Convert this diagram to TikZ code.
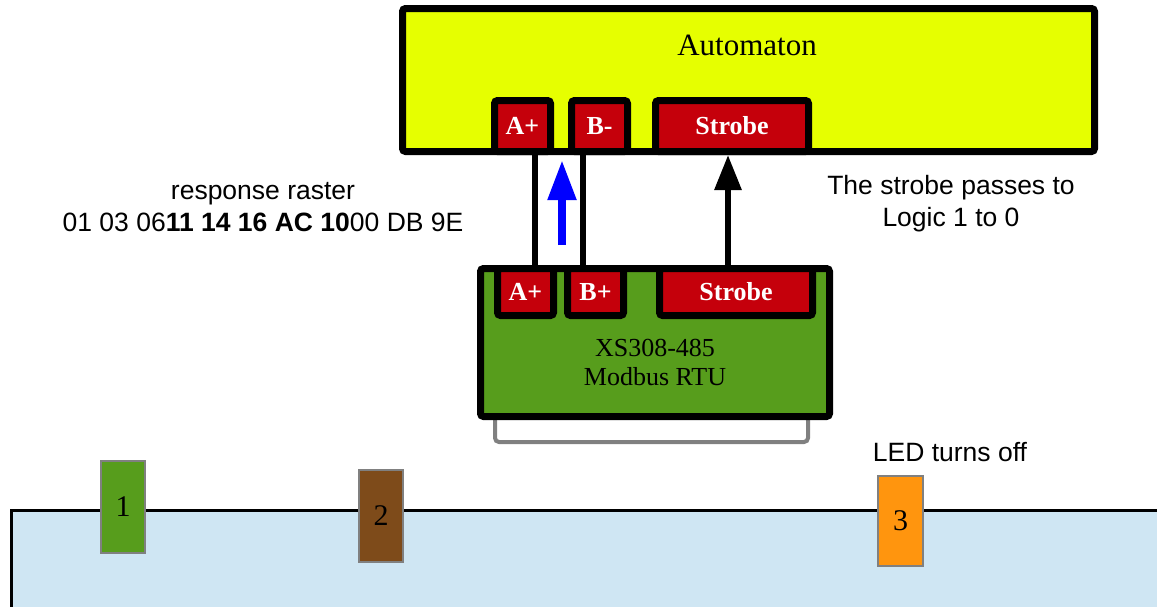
\documentclass[tikz,border=0pt]{standalone}
\usepackage{fontspec}
\setmainfont{Liberation Serif}
\newfontfamily\sansf{Liberation Sans}
\usetikzlibrary{arrows.meta}
\definecolor{autoyellow}{HTML}{E6FF00}
\definecolor{pinred}{HTML}{C5000B}
\definecolor{modgreen}{HTML}{579D1C}
\definecolor{ledbrown}{HTML}{7E4B1A}
\definecolor{ledorange}{HTML}{FF950E}
\definecolor{floorblue}{HTML}{CFE6F3}
\definecolor{edgegray}{HTML}{808080}
\tikzset{
  bigbox/.style={draw=black, line width=7pt, rounded corners=3pt, inner sep=0pt},
  pinbox/.style={draw=black, fill=pinred, line width=7pt, rounded corners=3pt, inner sep=0pt,
     text=white, font=\fontsize{26}{29}\selectfont\bfseries, minimum width=56pt},
  ledbox/.style={draw=edgegray, line width=2pt, inner sep=0pt, minimum width=44pt,
     minimum height=92pt, font=\fontsize{30}{32}\selectfont},
  wire/.style={draw=black, line width=6pt},
  note/.style={font=\sansf\fontsize{26.5}{32}\selectfont, align=center, inner sep=0pt},
}
\begin{document}
\begin{tikzpicture}[x=1pt,y=-1pt]
\useasboundingbox (0,0) rectangle (1157,606);
% floor area
\fill[floorblue] (11,510) rectangle (1175,625);
\draw[line width=3pt] (11,625) -- (11,510) -- (1175,510);

% coordinates for wires
\coordinate (wL) at (535,0);
\coordinate (wR) at (583,0);
\coordinate (wS) at (728,0);
\coordinate (blueStart) at (562,245);
\coordinate (blueEnd) at (562,160);

% automaton
\node[bigbox, fill=autoyellow, minimum width=692pt, minimum height=143pt] (autom) at (748.5,80) {};
\node[font=\fontsize{31}{34}\selectfont, inner sep=0pt] (automLabel) at (747,45) {Automaton};
\node[pinbox, minimum height=51pt] (aA) at (522.5,126) {A+};
\node[pinbox, minimum height=51pt] (aB) at (599.5,126) {B-};
\node[pinbox, minimum height=51pt, minimum width=153pt] (aS) at (732,126) {Strobe};

% module
\node[draw=edgegray, fill=white, line width=4pt, rounded corners=4pt, minimum width=313pt, minimum height=26pt, inner sep=0pt] (bar) at (651.5,429) {};
\node[bigbox, fill=modgreen, minimum width=349pt, minimum height=148pt] (mod) at (655,342.5) {};
\node[pinbox, minimum height=47pt] (mA) at (525.5,292) {A+};
\node[pinbox, minimum height=47pt] (mB) at (595.5,292) {B+};
\node[pinbox, minimum height=47pt, minimum width=153pt] (mS) at (736,292) {Strobe};
\node[font=\fontsize{26}{29}\selectfont, align=center, inner sep=0pt] (modLabel) at (655,362) {XS308-485\\Modbus RTU};

% wires
\draw[wire] (wL |- autom.south) -- (wL |- mod.north);
\draw[wire] (wR |- autom.south) -- (wR |- mod.north);
\draw[wire, -{Triangle[width=26pt,length=35pt]}] (wS |- mod.north) -- (wS |- autom.south);
\draw[blue, line width=8pt, -{Triangle[width=27pt,length=40pt]}] (blueStart) -- (blueEnd);

% texts
\node[note] (raster) at (263,207) {response raster\\01 03 06\textbf{11 14 16 AC 10}00 DB 9E};
\node[note] (strobeNote) at (951,204) {The strobe passes to\\Logic 1 to 0};
\node[note] (ledNote) at (950,452) {LED turns off};

% LEDs
\node[ledbox, fill=modgreen] (led1) at (123,507) {1};
\node[ledbox, fill=ledbrown] (led2) at (381,516) {2};
\node[ledbox, fill=ledorange, minimum width=45pt, minimum height=90pt] (led3) at (900.5,521) {3};
\end{tikzpicture}
\end{document}
